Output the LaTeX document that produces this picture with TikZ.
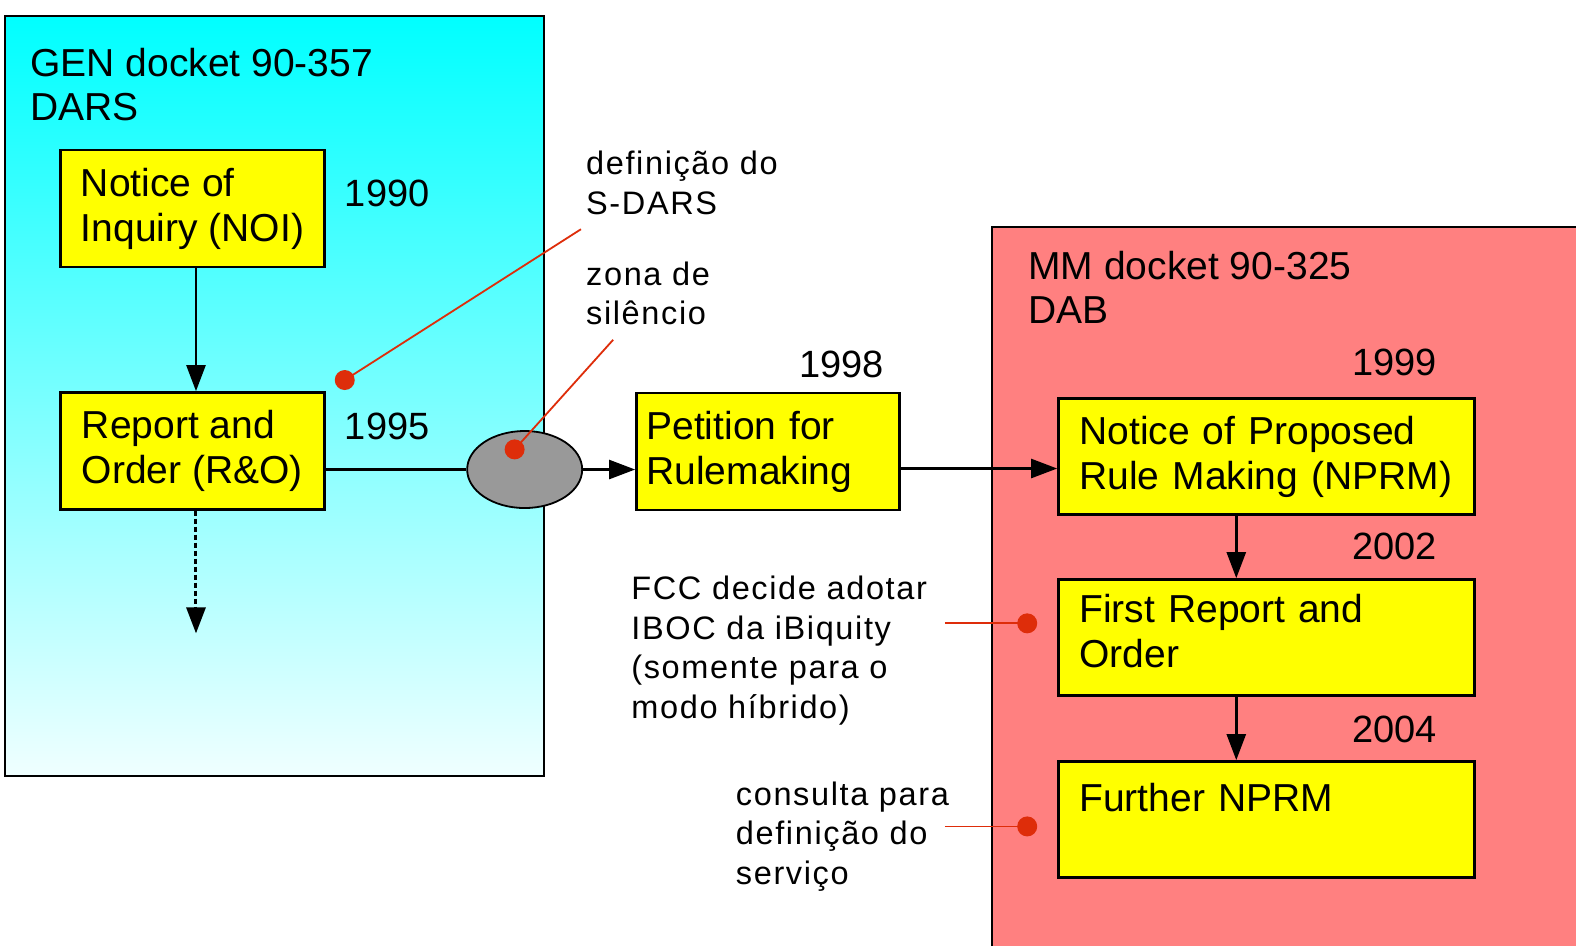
\documentclass[tikz,border=0pt]{standalone}
\usepackage{fontspec}
\setmainfont{Liberation Sans}
\usetikzlibrary{arrows.meta,shapes.geometric}
\definecolor{boxyellow}{RGB}{255,255,0}
\definecolor{salmon}{RGB}{255,128,128}
\definecolor{dotred}{RGB}{222,45,10}
\definecolor{ellgray}{RGB}{153,153,153}
\newcommand{\boxfont}{\fontsize{39}{45}\selectfont}
\newcommand{\notefont}{\fontsize{32.5}{39.5}\selectfont\addfontfeatures{LetterSpace=5}}
\newcommand{\yearfont}{\fontsize{38}{40}\selectfont}
\begin{document}
\begin{tikzpicture}[x=1.005pt,y=-1.0053pt,
  stepbox/.style={draw, line width=2.5pt, fill=boxyellow, inner xsep=21pt, inner ysep=0pt, align=left, font=\boxfont},
  smallbox/.style={stepbox, minimum height=117pt, minimum width=264pt, inner xsep=0pt},
  petbox/.style={stepbox, minimum height=117pt, inner xsep=10pt, text width=243pt},
  widebox/.style={stepbox, minimum height=116pt, text width=374pt},
  arr/.style={line width=2.5pt, -{Triangle[length=26pt,width=19pt]}},
  plain/.style={line width=2.5pt},
  notetext/.style={anchor=west, inner sep=0pt, align=left, font=\notefont},
  yeartext/.style={anchor=west, inner sep=0pt, font=\yearfont},
  titletext/.style={anchor=west, inner sep=0pt, align=left, font=\fontsize{39}{44}\selectfont},
  reddot/.style={circle, fill=dotred, minimum size=20pt, inner sep=0pt},
  redline/.style={draw=dotred, line width=1.8pt}]
\useasboundingbox (0,0) rectangle (1568,941);
\fill[white] (0,0) rectangle (1568,941);
% left panel
\shade[top color=cyan, bottom color=cyan!6] (5,16) rectangle (541,772);
\draw[line width=2.5pt] (5,16) rectangle (541,772);
% right panel
\fill[salmon] (987,226) rectangle (1568,941);
\draw[line width=2.5pt] (987,941) -- (987,226) -- (1568,226);
% titles
\node[titletext] (t1) at (30,84) {GEN docket 90-357\\DARS};
\node[titletext] (t2) at (1023,286) {MM docket 90-325\\DAB};
% boxes
\node[smallbox] (noi) at (191.5,207.5) {Notice of\\Inquiry (NOI)};
\node[smallbox] (rao) at (191.5,448.5) {Report and\\Order (R\&O)};
\node[petbox] (pet) at (764,449) {Petition for\\Rulemaking};
\node[widebox] (nprm) at (1260,454) {Notice of Proposed\\Rule Making (NPRM)\\[-37pt]\mbox{}};
\node[widebox] (fro) at (1260,634) {First Report and\\Order\\[-31pt]\mbox{}};
\node[widebox] (fnprm) at (1260,815) {Further NPRM\\\mbox{}};
\node[ellipse, draw, line width=1.8pt, fill=ellgray, minimum width=115pt, minimum height=77pt, inner sep=0pt] (el) at (522,467) {};
% years
\node[yeartext] (y1) at (343,192) {1990};
\node[yeartext] (y2) at (343,424) {1995};
\node[yeartext] (y3) at (795,362) {1998};
\node[yeartext] (y4) at (1345,360) {1999};
\node[yeartext] (y5) at (1345,543) {2002};
\node[yeartext] (y6) at (1345,725) {2004};
% connectors
\draw[arr] (noi.south -| 195,0) -- (rao.north -| 195,0);
\draw[arr, line width=3pt, dash pattern=on 5pt off 3pt] (rao.south -| 195,0) coordinate (ds) -- (195,630) coordinate (de);
\draw[plain] (rao.east |- el.west) -- (el.west);
\draw[arr] (el.east) -- (el.east -| pet.west);
\draw[arr] (pet.east |- 0,466) -- (nprm.west |- 0,466);
\draw[arr] (nprm.south -| 1230,0) -- (fro.north -| 1230,0);
\draw[arr] (fro.south -| 1230,0) -- (fnprm.north -| 1230,0);
% annotations
\node[notetext] (n1) at (583,182) {definição do\\S-DARS};
\node[notetext] (n2) at (583,292) {zona de\\silêncio};
\node[notetext] (n3) at (628,647) {FCC decide adotar\\IBOC da iBiquity\\(somente para o\\modo híbrido)};
\node[notetext] (n4) at (732,832) {consulta para\\definição do\\serviço};
\node[reddot] (d1) at (343,378) {};
\node[reddot] (d2) at (512,447) {};
\node[reddot] (d3) at (1022,620) {};
\node[reddot] (d4) at (1022,822) {};
\coordinate (c1) at (578,228);
\coordinate (c2) at (610,338);
\coordinate (c3) at (940,620);
\coordinate (c4) at (940,822);
\draw[redline] (c1) -- (d1.center);
\draw[redline] (c2) -- (d2.center);
\draw[redline] (c3) -- (d3.center);
\draw[redline] (c4) -- (d4.center);
\end{tikzpicture}
\end{document}
